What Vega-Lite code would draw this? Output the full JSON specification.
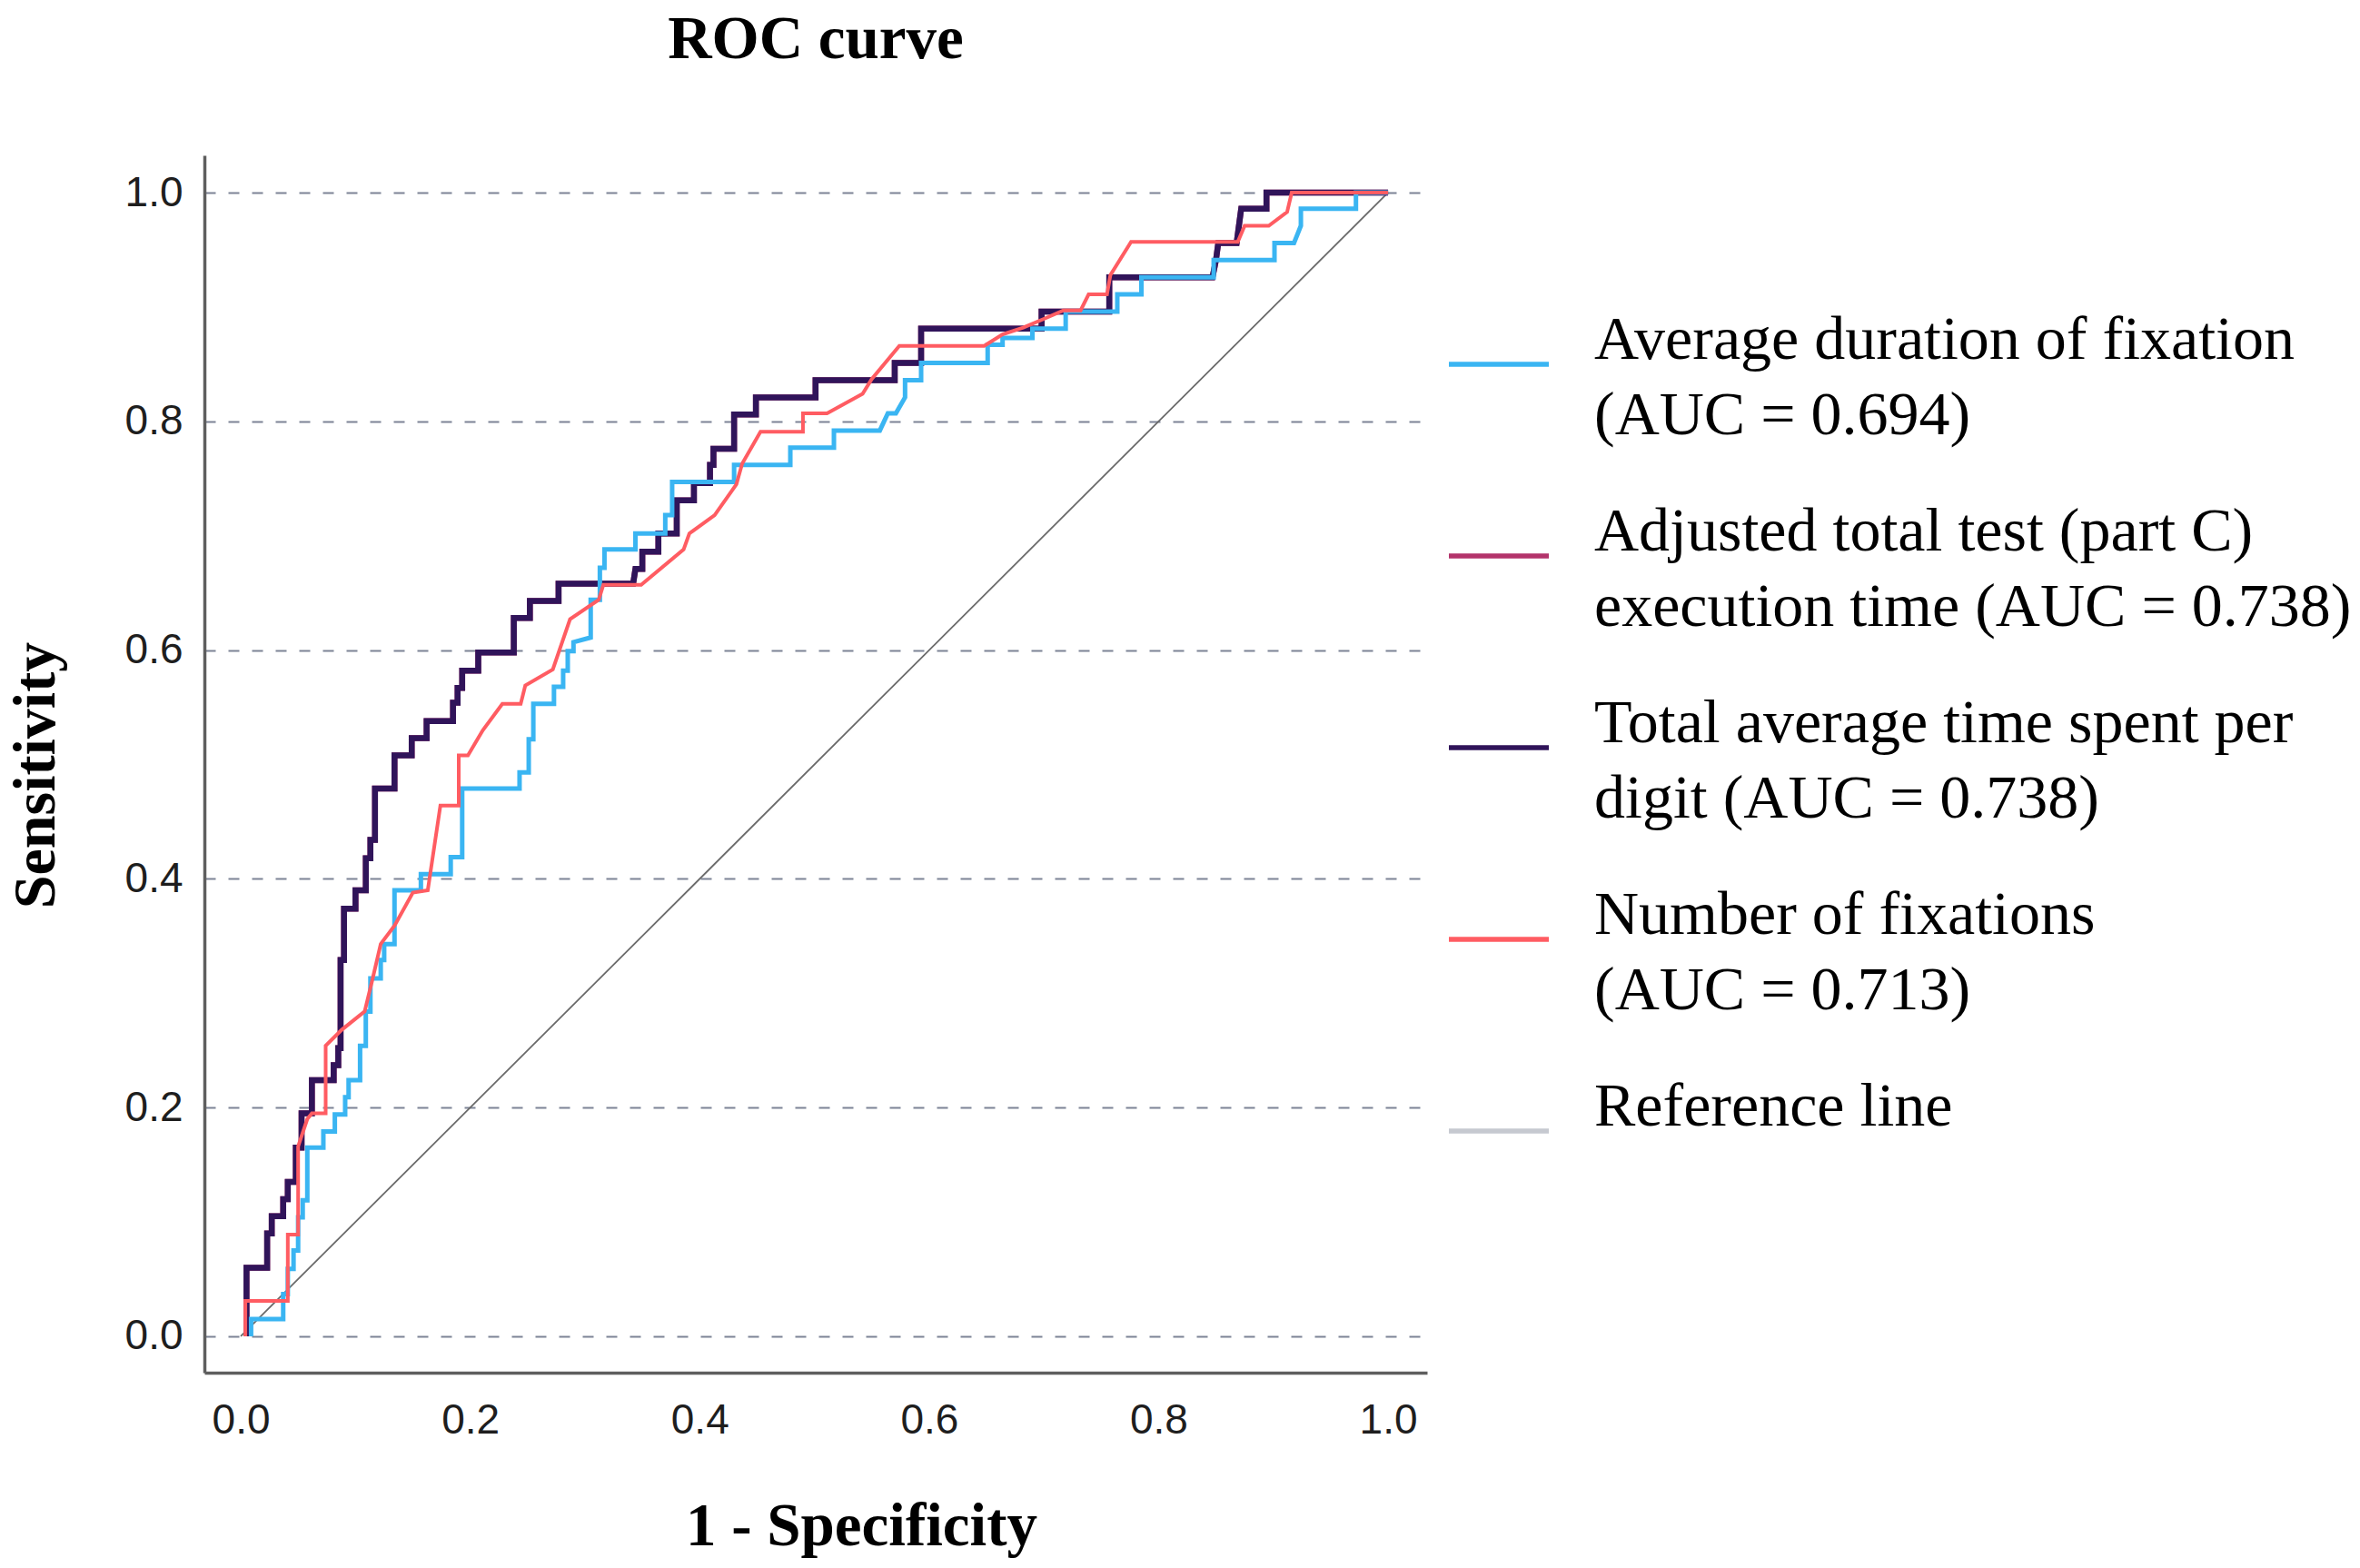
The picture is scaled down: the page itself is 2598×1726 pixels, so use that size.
{
  "$schema": "https://vega.github.io/schema/vega-lite/v6.json",
  "width": 1346,
  "height": 1340,
  "autosize": {"type": "none"},
  "padding": {"left": 225, "top": 171, "right": 1027, "bottom": 215},
  "background": "white",
  "title": {"text": "ROC curve", "font": "Liberation Serif", "fontSize": 67, "fontWeight": "bold", "color": "#000000", "anchor": "middle", "frame": "group", "baseline": "alphabetic", "offset": 40},
  "config": {"view": {"stroke": null}},
  "datasets": {
    "timeDigit": [
      {"i":0,"x":0.005,"y":0},{"i":1,"x":0.005,"y":0.060},{"i":2,"x":0.023,"y":0.060},{"i":3,"x":0.023,"y":0.090},{"i":4,"x":0.027,"y":0.090},{"i":5,"x":0.027,"y":0.105},{"i":6,"x":0.037,"y":0.105},{"i":7,"x":0.037,"y":0.120},{"i":8,"x":0.041,"y":0.120},{"i":9,"x":0.041,"y":0.135},
      {"i":10,"x":0.048,"y":0.135},{"i":11,"x":0.048,"y":0.165},{"i":12,"x":0.053,"y":0.165},{"i":13,"x":0.053,"y":0.195},{"i":14,"x":0.062,"y":0.195},{"i":15,"x":0.062,"y":0.224},{"i":16,"x":0.081,"y":0.224},{"i":17,"x":0.081,"y":0.237},{"i":18,"x":0.085,"y":0.237},{"i":19,"x":0.085,"y":0.252},
      {"i":20,"x":0.087,"y":0.252},{"i":21,"x":0.087,"y":0.329},{"i":22,"x":0.090,"y":0.329},{"i":23,"x":0.090,"y":0.374},{"i":24,"x":0.100,"y":0.374},{"i":25,"x":0.100,"y":0.390},{"i":26,"x":0.109,"y":0.390},{"i":27,"x":0.109,"y":0.418},{"i":28,"x":0.113,"y":0.418},{"i":29,"x":0.113,"y":0.434},
      {"i":30,"x":0.117,"y":0.434},{"i":31,"x":0.117,"y":0.479},{"i":32,"x":0.134,"y":0.479},{"i":33,"x":0.134,"y":0.508},{"i":34,"x":0.149,"y":0.508},{"i":35,"x":0.149,"y":0.523},{"i":36,"x":0.162,"y":0.523},{"i":37,"x":0.162,"y":0.538},{"i":38,"x":0.185,"y":0.538},{"i":39,"x":0.185,"y":0.554},
      {"i":40,"x":0.189,"y":0.554},{"i":41,"x":0.189,"y":0.567},{"i":42,"x":0.193,"y":0.567},{"i":43,"x":0.193,"y":0.582},{"i":44,"x":0.207,"y":0.582},{"i":45,"x":0.207,"y":0.598},{"i":46,"x":0.238,"y":0.598},{"i":47,"x":0.238,"y":0.628},{"i":48,"x":0.252,"y":0.628},{"i":49,"x":0.252,"y":0.643},
      {"i":50,"x":0.277,"y":0.643},{"i":51,"x":0.277,"y":0.658},{"i":52,"x":0.342,"y":0.658},{"i":53,"x":0.344,"y":0.671},{"i":54,"x":0.350,"y":0.671},{"i":55,"x":0.350,"y":0.686},{"i":56,"x":0.364,"y":0.686},{"i":57,"x":0.364,"y":0.702},{"i":58,"x":0.380,"y":0.702},{"i":59,"x":0.380,"y":0.731},
      {"i":60,"x":0.395,"y":0.731},{"i":61,"x":0.395,"y":0.746},{"i":62,"x":0.409,"y":0.746},{"i":63,"x":0.409,"y":0.762},{"i":64,"x":0.412,"y":0.762},{"i":65,"x":0.412,"y":0.776},{"i":66,"x":0.430,"y":0.776},{"i":67,"x":0.430,"y":0.806},{"i":68,"x":0.449,"y":0.806},{"i":69,"x":0.449,"y":0.821},
      {"i":70,"x":0.501,"y":0.821},{"i":71,"x":0.501,"y":0.836},{"i":72,"x":0.570,"y":0.836},{"i":73,"x":0.570,"y":0.851},{"i":74,"x":0.593,"y":0.851},{"i":75,"x":0.593,"y":0.881},{"i":76,"x":0.698,"y":0.881},{"i":77,"x":0.698,"y":0.896},{"i":78,"x":0.757,"y":0.896},{"i":79,"x":0.757,"y":0.926},
      {"i":80,"x":0.847,"y":0.926},{"i":81,"x":0.850,"y":0.941},{"i":82,"x":0.852,"y":0.956},{"i":83,"x":0.868,"y":0.956},{"i":84,"x":0.870,"y":0.971},{"i":85,"x":0.872,"y":0.986},{"i":86,"x":0.894,"y":0.986},{"i":87,"x":0.894,"y":1.0},{"i":88,"x":1.0,"y":1.0}
    ],
    "fixDur": [
      {"i":0,"x":0.009,"y":0},{"i":1,"x":0.009,"y":0.015},{"i":2,"x":0.037,"y":0.015},{"i":3,"x":0.037,"y":0.037},{"i":4,"x":0.041,"y":0.037},{"i":5,"x":0.041,"y":0.059},{"i":6,"x":0.046,"y":0.059},{"i":7,"x":0.046,"y":0.075},{"i":8,"x":0.050,"y":0.075},{"i":9,"x":0.050,"y":0.104},
      {"i":10,"x":0.054,"y":0.104},{"i":11,"x":0.054,"y":0.119},{"i":12,"x":0.058,"y":0.119},{"i":13,"x":0.058,"y":0.165},{"i":14,"x":0.072,"y":0.165},{"i":15,"x":0.072,"y":0.179},{"i":16,"x":0.082,"y":0.179},{"i":17,"x":0.082,"y":0.194},{"i":18,"x":0.091,"y":0.194},{"i":19,"x":0.091,"y":0.209},
      {"i":20,"x":0.094,"y":0.209},{"i":21,"x":0.094,"y":0.224},{"i":22,"x":0.104,"y":0.224},{"i":23,"x":0.104,"y":0.254},{"i":24,"x":0.109,"y":0.254},{"i":25,"x":0.109,"y":0.284},{"i":26,"x":0.113,"y":0.284},{"i":27,"x":0.113,"y":0.313},{"i":28,"x":0.122,"y":0.313},{"i":29,"x":0.122,"y":0.329},
      {"i":30,"x":0.125,"y":0.329},{"i":31,"x":0.125,"y":0.343},{"i":32,"x":0.134,"y":0.343},{"i":33,"x":0.134,"y":0.390},{"i":34,"x":0.157,"y":0.390},{"i":35,"x":0.157,"y":0.404},{"i":36,"x":0.183,"y":0.404},{"i":37,"x":0.183,"y":0.419},{"i":38,"x":0.193,"y":0.419},{"i":39,"x":0.193,"y":0.479},
      {"i":40,"x":0.243,"y":0.479},{"i":41,"x":0.243,"y":0.493},{"i":42,"x":0.251,"y":0.493},{"i":43,"x":0.251,"y":0.522},{"i":44,"x":0.255,"y":0.522},{"i":45,"x":0.255,"y":0.553},{"i":46,"x":0.273,"y":0.553},{"i":47,"x":0.273,"y":0.568},{"i":48,"x":0.281,"y":0.568},{"i":49,"x":0.281,"y":0.582},
      {"i":50,"x":0.285,"y":0.582},{"i":51,"x":0.285,"y":0.599},{"i":52,"x":0.290,"y":0.599},{"i":53,"x":0.290,"y":0.607},{"i":54,"x":0.305,"y":0.611},{"i":55,"x":0.305,"y":0.644},{"i":56,"x":0.313,"y":0.644},{"i":57,"x":0.313,"y":0.672},{"i":58,"x":0.317,"y":0.672},{"i":59,"x":0.317,"y":0.688},
      {"i":60,"x":0.344,"y":0.688},{"i":61,"x":0.344,"y":0.702},{"i":62,"x":0.370,"y":0.702},{"i":63,"x":0.370,"y":0.718},{"i":64,"x":0.376,"y":0.718},{"i":65,"x":0.376,"y":0.747},{"i":66,"x":0.430,"y":0.747},{"i":67,"x":0.430,"y":0.762},{"i":68,"x":0.479,"y":0.762},{"i":69,"x":0.479,"y":0.777},
      {"i":70,"x":0.517,"y":0.777},{"i":71,"x":0.517,"y":0.792},{"i":72,"x":0.557,"y":0.792},{"i":73,"x":0.564,"y":0.807},{"i":74,"x":0.571,"y":0.807},{"i":75,"x":0.579,"y":0.821},{"i":76,"x":0.579,"y":0.836},{"i":77,"x":0.593,"y":0.836},{"i":78,"x":0.593,"y":0.851},{"i":79,"x":0.651,"y":0.851},
      {"i":80,"x":0.651,"y":0.867},{"i":81,"x":0.664,"y":0.867},{"i":82,"x":0.664,"y":0.873},{"i":83,"x":0.690,"y":0.873},{"i":84,"x":0.690,"y":0.881},{"i":85,"x":0.719,"y":0.881},{"i":86,"x":0.719,"y":0.896},{"i":87,"x":0.764,"y":0.896},{"i":88,"x":0.764,"y":0.911},{"i":89,"x":0.785,"y":0.911},
      {"i":90,"x":0.785,"y":0.926},{"i":91,"x":0.848,"y":0.926},{"i":92,"x":0.848,"y":0.941},{"i":93,"x":0.901,"y":0.941},{"i":94,"x":0.901,"y":0.956},{"i":95,"x":0.918,"y":0.956},{"i":96,"x":0.924,"y":0.971},{"i":97,"x":0.924,"y":0.986},{"i":98,"x":0.972,"y":0.986},{"i":99,"x":0.972,"y":1.0},
      {"i":100,"x":1.0,"y":1.0}
    ],
    "numFix": [
      {"i":0,"x":0.004,"y":0},{"i":1,"x":0.004,"y":0.031},{"i":2,"x":0.041,"y":0.031},{"i":3,"x":0.041,"y":0.089},{"i":4,"x":0.050,"y":0.089},{"i":5,"x":0.050,"y":0.166},{"i":6,"x":0.058,"y":0.190},{"i":7,"x":0.062,"y":0.195},{"i":8,"x":0.074,"y":0.195},{"i":9,"x":0.074,"y":0.254},
      {"i":10,"x":0.088,"y":0.268},{"i":11,"x":0.108,"y":0.284},{"i":12,"x":0.115,"y":0.313},{"i":13,"x":0.122,"y":0.343},{"i":14,"x":0.134,"y":0.359},{"i":15,"x":0.150,"y":0.388},{"i":16,"x":0.163,"y":0.390},{"i":17,"x":0.174,"y":0.464},{"i":18,"x":0.190,"y":0.464},{"i":19,"x":0.190,"y":0.508},
      {"i":20,"x":0.198,"y":0.508},{"i":21,"x":0.211,"y":0.530},{"i":22,"x":0.228,"y":0.553},{"i":23,"x":0.244,"y":0.553},{"i":24,"x":0.248,"y":0.569},{"i":25,"x":0.272,"y":0.583},{"i":26,"x":0.287,"y":0.627},{"i":27,"x":0.312,"y":0.644},{"i":28,"x":0.316,"y":0.657},{"i":29,"x":0.349,"y":0.657},
      {"i":30,"x":0.386,"y":0.688},{"i":31,"x":0.391,"y":0.702},{"i":32,"x":0.413,"y":0.718},{"i":33,"x":0.432,"y":0.745},{"i":34,"x":0.437,"y":0.763},{"i":35,"x":0.453,"y":0.791},{"i":36,"x":0.490,"y":0.791},{"i":37,"x":0.490,"y":0.807},{"i":38,"x":0.511,"y":0.807},{"i":39,"x":0.542,"y":0.824},
      {"i":40,"x":0.550,"y":0.837},{"i":41,"x":0.574,"y":0.866},{"i":42,"x":0.648,"y":0.866},{"i":43,"x":0.664,"y":0.876},{"i":44,"x":0.682,"y":0.882},{"i":45,"x":0.701,"y":0.890},{"i":46,"x":0.717,"y":0.897},{"i":47,"x":0.732,"y":0.897},{"i":48,"x":0.739,"y":0.911},{"i":49,"x":0.755,"y":0.911},
      {"i":50,"x":0.758,"y":0.928},{"i":51,"x":0.776,"y":0.957},{"i":52,"x":0.869,"y":0.957},{"i":53,"x":0.875,"y":0.971},{"i":54,"x":0.896,"y":0.971},{"i":55,"x":0.912,"y":0.983},{"i":56,"x":0.916,"y":1.0},{"i":57,"x":1.0,"y":1.0}
    ],
    "ref": [{"i":0,"x":0,"y":0},{"i":1,"x":1,"y":1}]
  },
  "encoding": {
    "x": {
      "field": "x", "type": "quantitative",
      "scale": {"domain": [-0.0317, 1.034], "nice": false, "zero": false},
      "axis": {
        "values": [0, 0.2, 0.4, 0.6, 0.8, 1], "format": ".1f", "grid": false, "ticks": false, "tickSize": 0,
        "domainColor": "#5e5e5e", "domainWidth": 3.5,
        "labelFont": "Liberation Sans", "labelFontSize": 46, "labelColor": "#1e1e1e", "labelPadding": 30, "labelFlush": false,
        "title": "1 - Specificity", "titleFont": "Liberation Serif", "titleFontSize": 67, "titleFontWeight": "bold", "titleColor": "#000000",
        "titleX": 723, "titleY": 189, "titleBaseline": "alphabetic", "titleAlign": "center"
      }
    },
    "y": {
      "field": "y", "type": "quantitative",
      "scale": {"domain": [-0.0318, 1.0326], "nice": false, "zero": false},
      "axis": {
        "values": [0, 0.2, 0.4, 0.6, 0.8, 1], "format": ".1f", "grid": true, "gridDash": [12, 14], "gridColor": "#7d8396", "gridWidth": 2,
        "ticks": false, "tickSize": 0, "domainColor": "#5e5e5e", "domainWidth": 3.5,
        "labelFont": "Liberation Sans", "labelFontSize": 46, "labelColor": "#1e1e1e", "labelPadding": 24, "labelFlush": false,
        "title": "Sensitivity", "titleFont": "Liberation Serif", "titleFontSize": 66, "titleFontWeight": "bold", "titleColor": "#000000",
        "titleAngle": 270, "titleX": -166, "titleY": 682, "titleBaseline": "alphabetic", "titleAlign": "center"
      }
    },
    "order": {"field": "i", "type": "quantitative"}
  },
  "layer": [
    {
      "data": {"name": "ref"},
      "mark": {"type": "line", "color": "#6a6a6a", "strokeWidth": 1.8}
    },
    {
      "data": {"name": "timeDigit"},
      "mark": {"type": "line", "strokeWidth": 6.5},
      "encoding": {
        "color": {
          "datum": "Adjusted total test (part C) execution time",
          "type": "nominal",
          "scale": {
            "domain": ["Average duration of fixation", "Adjusted total test (part C) execution time", "Total average time spent per digit", "Number of fixations", "Reference line"],
            "range": ["#3ab5f2", "#b3336b", "#30145a", "#ff5c62", "#c6c9d0"]
          },
          "legend": {
            "orient": "none", "legendX": 1367, "legendY": 172, "title": null, "padding": 0,
            "symbolType": "stroke", "symbolSize": 12100, "symbolStrokeWidth": 5.5, "symbolOpacity": 1,
            "labelFont": "Liberation Serif", "labelFontSize": 68, "labelColor": "#000000", "labelLimit": 3000, "labelOffset": 47,
            "labelBaseline": "middle", "rowPadding": 60, "gridAlign": "all",
            "labelExpr": "datum.label == 'Average duration of fixation' ? ['Average duration of fixation', '(AUC = 0.694)'] : datum.label == 'Adjusted total test (part C) execution time' ? ['Adjusted total test (part C)', 'execution time (AUC = 0.738)'] : datum.label == 'Total average time spent per digit' ? ['Total average time spent per', 'digit (AUC = 0.738)'] : datum.label == 'Number of fixations' ? ['Number of fixations', '(AUC = 0.713)'] : datum.label",
            "encode": {"labels": {"update": {"lineHeight": {"value": 83}, "dy": {"value": -26}}}}
          }
        }
      }
    },
    {
      "data": {"name": "timeDigit"},
      "mark": {"type": "line", "strokeWidth": 6.5},
      "encoding": {"color": {"datum": "Total average time spent per digit", "type": "nominal"}}
    },
    {
      "data": {"name": "fixDur"},
      "mark": {"type": "line", "strokeWidth": 5},
      "encoding": {"color": {"datum": "Average duration of fixation", "type": "nominal"}}
    },
    {
      "data": {"name": "numFix"},
      "mark": {"type": "line", "strokeWidth": 4},
      "encoding": {"color": {"datum": "Number of fixations", "type": "nominal"}}
    }
  ]
}
